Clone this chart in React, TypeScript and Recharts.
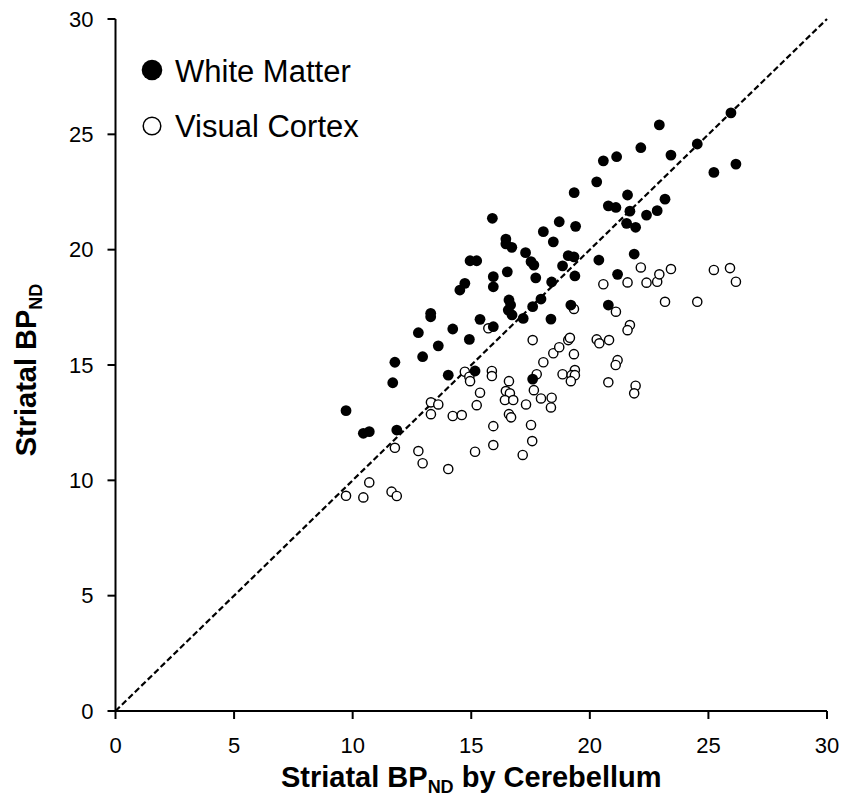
import { ScatterChart, Scatter, XAxis, YAxis, ReferenceLine, Label } from 'recharts';

const axisTicks = [0, 5, 10, 15, 20, 25, 30];

const whiteMatterX = [
  9.72, 10.45, 10.7, 11.86, 11.69, 11.78, 12.95, 12.77, 13.29, 13.29, 13.61, 14.22, 14.03, 14.92, 15.16, 15.37,
  14.52, 14.73, 14.95, 15.23, 15.89, 15.93, 15.93, 15.93, 16.46, 16.46, 16.71, 17.29, 17.52, 17.64, 16.52, 17.72,
  18.39, 17.94, 16.59, 16.66, 16.56, 16.72, 17.19, 17.59, 18.36, 17.59, 18.04, 18.46, 18.71, 19.4, 19.34, 19.09,
  19.33, 18.85, 19.37, 19.2, 20.38, 20.29, 20.57, 21.13, 22.15, 20.78, 21.1, 21.59, 21.69, 21.55, 21.93, 22.39,
  21.87, 21.17, 20.78, 22.93, 22.84, 23.17, 23.42, 24.53, 25.23, 25.95, 26.16,
];
const whiteMatterY = [
  13.02, 12.04, 12.11, 12.18, 14.23, 15.12, 15.36, 16.4, 17.24, 17.09, 15.83, 16.56, 14.56, 16.11, 14.74, 16.98,
  18.25, 18.54, 19.52, 19.52, 21.36, 18.83, 18.39, 16.66, 20.46, 20.25, 20.1, 19.87, 19.48, 19.33, 19.04, 18.78,
  18.6, 17.86, 17.82, 17.6, 17.38, 17.17, 17.02, 17.53, 16.99, 14.39, 20.78, 20.34, 21.21, 21.01, 22.47, 19.74,
  19.69, 19.3, 18.86, 17.6, 19.55, 22.94, 23.85, 24.03, 24.42, 21.9, 21.83, 22.37, 21.67, 21.14, 20.97, 21.5,
  19.81, 18.93, 17.6, 25.41, 21.69, 22.19, 24.1, 24.58, 23.35, 25.93, 23.71,
];

const visualCortexX = [
  9.72, 10.45, 10.7, 11.64, 11.86, 11.78, 12.77, 12.95, 14.03, 13.3, 13.61, 13.3, 14.22, 14.6, 15.16, 14.73,
  14.92, 14.95, 15.37, 15.23, 15.72, 15.87, 15.87, 15.93, 15.93, 16.59, 16.46, 16.63, 16.42, 16.77, 16.59, 16.68,
  17.17, 17.31, 17.52, 17.57, 17.59, 17.64, 17.76, 17.94, 18.39, 18.36, 18.04, 18.46, 18.71, 18.85, 19.09, 19.16,
  19.33, 19.37, 19.23, 19.37, 19.2, 19.33, 20.29, 20.4, 20.81, 20.57, 20.78, 21.1, 21.17, 21.09, 21.69, 21.59,
  21.93, 21.87, 21.59, 22.15, 22.39, 22.84, 22.93, 23.42, 23.17, 24.53, 25.23, 25.91, 26.16,
];
const visualCortexY = [
  9.33, 9.26, 9.91, 9.51, 9.32, 11.41, 11.27, 10.74, 10.49, 13.38, 13.29, 12.87, 12.79, 12.83, 11.24, 14.71,
  14.49, 14.3, 13.8, 13.26, 16.59, 14.74, 14.52, 12.35, 11.53, 14.3, 13.87, 13.77, 13.48, 13.48, 12.87, 12.73,
  11.1, 13.29, 12.4, 11.7, 16.08, 13.91, 14.6, 13.55, 13.58, 13.16, 15.12, 15.51, 15.77, 14.6, 16.08, 16.18,
  15.47, 14.78, 14.56, 14.56, 14.3, 17.43, 16.11, 15.94, 16.08, 18.5, 14.25, 17.31, 15.21, 15.0, 16.73, 16.51,
  14.1, 13.77, 18.58, 19.23, 18.57, 18.61, 18.93, 19.16, 17.74, 17.74, 19.12, 19.2, 18.61,
];

const whiteMatter = whiteMatterX.map((x, i) => ({ x, y: whiteMatterY[i] }));
const visualCortex = visualCortexX.map((x, i) => ({ x, y: visualCortexY[i] }));

const FONT = 'Arial, "Liberation Sans", sans-serif';

const FilledDot = (props: any) => <circle cx={props.cx} cy={props.cy} r={5.4} fill="#000" />;
const OpenDot = (props: any) => (
  <circle cx={props.cx} cy={props.cy} r={4.6} fill="#fff" stroke="#000" strokeWidth={1.4} />
);

function LegendBox() {
  return (
    <svg width={260} height={110} style={{ position: 'absolute', left: 130, top: 45, display: 'block' }}>
      <circle cx={22} cy={25} r={10.3} fill="#000" />
      <text x={45} y={36.5} fontFamily={FONT} fontSize={31} fill="#000">White Matter</text>
      <circle cx={22} cy={81} r={8.8} fill="#fff" stroke="#000" strokeWidth={1.5} />
      <text x={45} y={92} fontFamily={FONT} fontSize={31} fill="#000">Visual Cortex</text>
    </svg>
  );
}

function XTitle({ viewBox }: any) {
  const cx = viewBox.x + viewBox.width / 2;
  const y = viewBox.y + 76;
  return (
    <text x={cx} y={y} textAnchor="middle" fontFamily={FONT} fontWeight="bold" fontSize={29} fill="#000">
      <tspan>Striatal BP</tspan>
      <tspan fontSize={18} dy={6}>ND</tspan>
      <tspan dy={-6}> by Cerebellum</tspan>
    </text>
  );
}

function YTitle() {
  const x = 36;
  const y = 370;
  return (
    <text
      x={x}
      y={y}
      textAnchor="middle"
      transform={`rotate(-90, ${x}, ${y})`}
      fontFamily={FONT}
      fontWeight="bold"
      fontSize={29}
      fill="#000"
    >
      <tspan>Striatal BP</tspan>
      <tspan fontSize={18} dy={6}>ND</tspan>
    </text>
  );
}

export default function App() {
  return (
    <div style={{ position: 'absolute', left: 0, top: 0, width: 843, height: 800, background: '#fff' }}>
      <ScatterChart width={843} height={800} margin={{ top: 19, right: 16, bottom: 29, left: 0 }}>
        <XAxis
          type="number"
          dataKey="x"
          domain={[0, 30]}
          ticks={axisTicks}
          height={60}
          stroke="#000"
          strokeWidth={2}
          tickSize={8}
          tickMargin={18}
          tick={{ fontSize: 22, fill: '#000', fontFamily: FONT }}
          allowDataOverflow
        >
          <Label content={<XTitle />} />
        </XAxis>
        <YAxis
          type="number"
          dataKey="y"
          domain={[0, 30]}
          ticks={axisTicks}
          width={115.5}
          stroke="#000"
          strokeWidth={2}
          tickSize={8}
          tickMargin={14}
          tick={{ fontSize: 22, fill: '#000', fontFamily: FONT }}
          allowDataOverflow
        >
          <Label content={<YTitle />} />
        </YAxis>
        <ReferenceLine
          segment={[{ x: 0, y: 0 }, { x: 30, y: 30 }]}
          stroke="#000"
          strokeWidth={2.2}
          strokeDasharray="6 3"
        />
        <Scatter name="Visual Cortex" data={visualCortex} shape={<OpenDot />} isAnimationActive={false} />
        <Scatter name="White Matter" data={whiteMatter} shape={<FilledDot />} isAnimationActive={false} />
      </ScatterChart>
      <LegendBox />
    </div>
  );
}
